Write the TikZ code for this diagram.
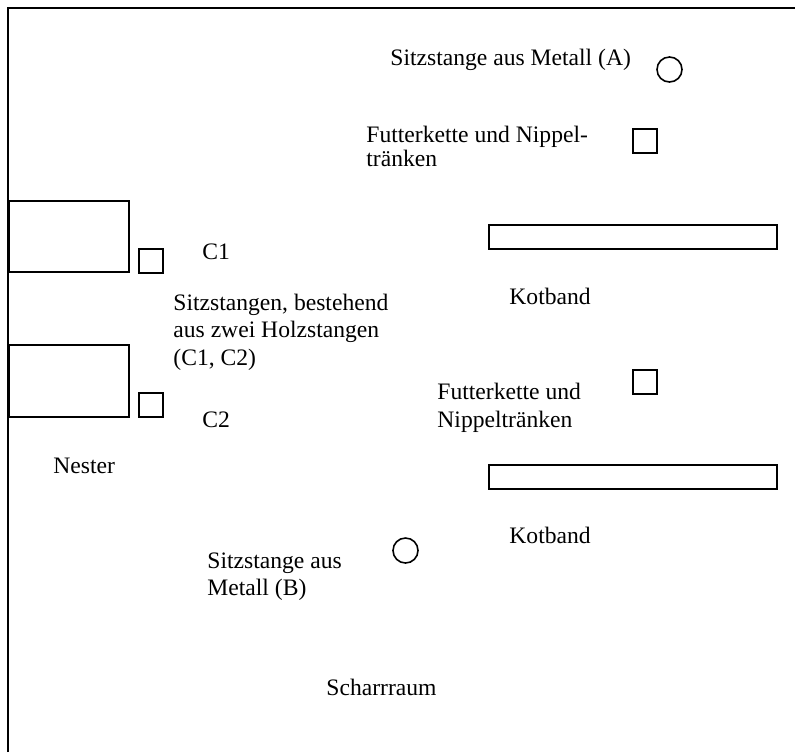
\documentclass[tikz,border=0pt]{standalone}
\usepackage{fontspec}
\setmainfont{Liberation Serif}
\begin{document}
\begin{tikzpicture}[x=0.5pt,y=-0.5pt,
  lbl/.style={anchor=base west,inner sep=0pt,font=\fontsize{11.8}{13.8}\selectfont},
  shp/.style={draw=black,line width=0.9pt},
  rnd/.style={draw=black,line width=0.8pt}]
\useasboundingbox (0,0) rectangle (795,752);
% frame
\draw[line width=1.1pt] (8,752) -- (8,8) -- (795,8);
% nests
\draw[shp] (9,201) rectangle (129,272);
\draw[shp] (9,345) rectangle (129,417);
% wooden perches
\draw[shp] (139,249) rectangle (163,273);
\draw[shp] (139,393) rectangle (163,417);
% feeders
\draw[shp] (633,129) rectangle (657,153);
\draw[shp] (633,370) rectangle (657,394);
% manure belts
\draw[shp] (489,225) rectangle (777,249);
\draw[shp] (489,465) rectangle (777,489);
% metal perches
\draw[rnd] (669.5,69.5) circle (12.5);
\draw[rnd] (405.5,550.5) circle (12.5);
% labels
\node[lbl] (a1) at (390,65) {Sitzstange aus Metall (A)};
\node[lbl] (f1) at (366,142) {Futterkette und Nippel-};
\node[lbl] (f2) at (366,166) {tränken};
\node[lbl] (c1) at (202,259) {C1};
\node[lbl] (s1) at (173,310) {Sitzstangen, bestehend};
\node[lbl] (s2) at (173,337.5) {aus zwei Holzstangen};
\node[lbl] (s3) at (173,365) {(C1, C2)};
\node[lbl] (c2) at (202,427) {C2};
\node[lbl] (k1) at (509,304) {Kotband};
\node[lbl] (g1) at (437,399) {Futterkette und};
\node[lbl] (g2) at (437,427) {Nippeltränken};
\node[lbl] (n1) at (53,473) {Nester};
\node[lbl] (k2) at (509,543) {Kotband};
\node[lbl] (b1) at (207,568) {Sitzstange aus};
\node[lbl] (b2) at (207,595) {Metall (B)};
\node[lbl] (sr) at (326,695) {Scharrraum};
\end{tikzpicture}
\end{document}
